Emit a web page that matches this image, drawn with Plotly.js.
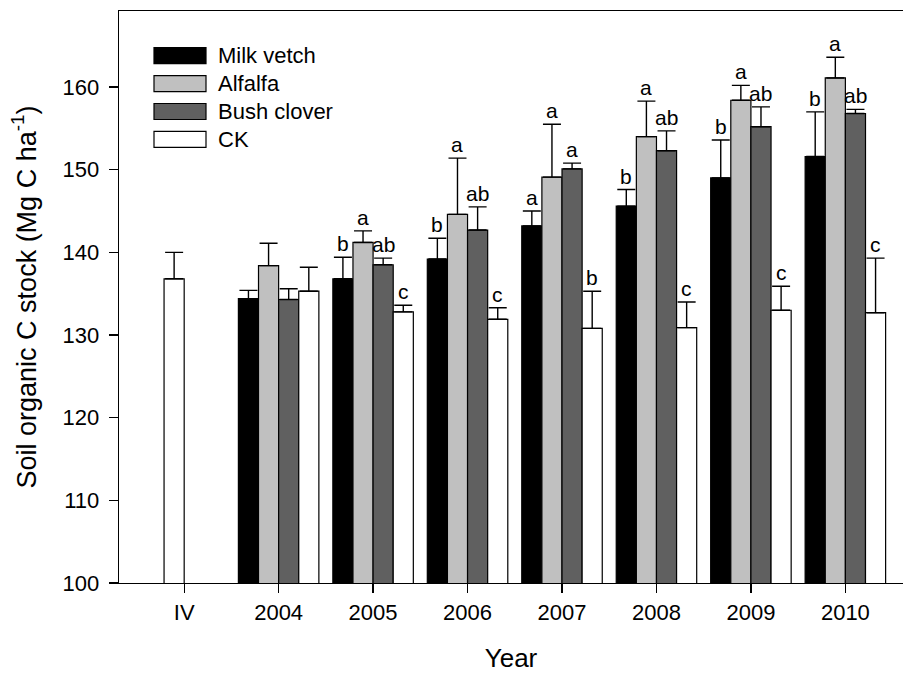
<!DOCTYPE html>
<html>
<head>
<meta charset="utf-8">
<script src="https://cdn.plot.ly/plotly-3.0.1.min.js"></script>
<style>html,body{margin:0;padding:0;background:#fff;}#chart{width:903px;height:673px;}</style>
</head>
<body>
<div id="chart"></div>
<script>
// ---- data ----
const categories = ["IV", "2004", "2005", "2006", "2007", "2008", "2009", "2010"];
const seriesNames = ["Milk vetch", "Alfalfa", "Bush clover", "CK"];

const milkVetch     = [null, 134.4, 136.8, 139.2, 143.2, 145.6, 149.0, 151.6];
const milkVetchErr  = [null,   1.0,   2.6,   2.5,   1.8,   2.0,   4.6,   5.4];
const alfalfa       = [null, 138.4, 141.2, 144.6, 149.1, 154.0, 158.4, 161.1];
const alfalfaErr    = [null,   2.7,   1.4,   6.8,   6.4,   4.3,   1.8,   2.5];
const bushClover    = [null, 134.3, 138.5, 142.7, 150.1, 152.3, 155.2, 156.8];
const bushCloverErr = [null,   1.3,   0.8,   2.8,   0.7,   2.4,   2.4,   0.5];
const ck            = [136.8, 135.3, 132.8, 131.9, 130.8, 130.9, 133.0, 132.7];
const ckErr         = [  3.2,   2.9,   0.8,   1.4,   4.5,   3.1,   2.9,   6.6];

const milkVetchLetters  = ["", "", "b", "b", "a", "b", "b", "b"];
const alfalfaLetters    = ["", "", "a", "a", "a", "a", "a", "a"];
const bushCloverLetters = ["", "", "ab", "ab", "a", "ab", "ab", "ab"];
const ckLetters         = ["", "", "c", "c", "b", "c", "c", "c"];

const yTicks = [100, 110, 120, 130, 140, 150, 160];

// ---- styling ----
const colors = ["#000000", "#c0c0c0", "#606060", "#ffffff"];
const FONT = "Liberation Sans, Arial, sans-serif";
const W = 903, H = 673;
const M = {l: 119, r: 0, t: 11, b: 90};
const BW = 0.213; // bar width in category units

const values = [milkVetch, alfalfa, bushClover, ck];
const errors = [milkVetchErr, alfalfaErr, bushCloverErr, ckErr];
const letters = [milkVetchLetters, alfalfaLetters, bushCloverLetters, ckLetters];

// CK alone (first category) sits just left of the tick
function offsetsFor(s) {
  return categories.map((c, i) => {
    const onlyCk = milkVetch[i] == null && alfalfa[i] == null && bushClover[i] == null;
    if (s === 3 && onlyCk) return -BW;
    return (s - 2) * BW;
  });
}

const traces = values.map((v, s) => ({
  type: "bar",
  name: seriesNames[s],
  x: categories,
  y: v,
  width: BW,
  offset: offsetsFor(s),
  marker: {color: colors[s], line: {color: "#000", width: 1.2}},
  error_y: {
    type: "data", symmetric: false,
    array: errors[s],
    arrayminus: errors[s].map(e => 0),
    color: "#000", thickness: 1.4, width: 9
  },
  showlegend: false,
  hoverinfo: "skip"
}));

// significance letters above the error caps
const annotations = [];
values.forEach((v, s) => {
  const offs = offsetsFor(s);
  v.forEach((val, i) => {
    if (val == null || !letters[s][i]) return;
    annotations.push({
      x: i + offs[i] + BW / 2, xref: "x",
      y: val + errors[s][i], yref: "y",
      text: letters[s][i], showarrow: false,
      xanchor: "center", yanchor: "bottom", yshift: 0,
      font: {family: FONT, size: 21, color: "#000"}
    });
  });
});

// custom legend (large swatches like the reference)
const PW = W - M.l - M.r, PH = H - M.t - M.b;
const px2x = px => (px - M.l) / PW;
const px2y = py => (H - M.b - py) / PH;
const shapes = [];
seriesNames.forEach((n, s) => {
  const cy = 55.7 + s * 27.9;
  shapes.push({
    type: "rect", xref: "paper", yref: "paper",
    x0: px2x(154), x1: px2x(206), y0: px2y(cy + 8), y1: px2y(cy - 8),
    fillcolor: colors[s], line: {color: "#000", width: 1.2}
  });
  annotations.push({
    xref: "paper", yref: "paper", x: px2x(216), y: px2y(cy),
    xanchor: "left", yanchor: "middle", showarrow: false,
    text: n, font: {family: FONT, size: 22, color: "#000"}
  });
});

const layout = {
  width: W, height: H,
  margin: M,
  paper_bgcolor: "#fff", plot_bgcolor: "#fff",
  barmode: "overlay",
  font: {family: FONT, color: "#000"},
  xaxis: {
    type: "category",
    range: [-0.69, 7.61],
    showline: true, linecolor: "#000", linewidth: 1.3, mirror: true,
    ticks: "outside", ticklen: 9, tickwidth: 1.3, tickcolor: "#000",
    showgrid: false, zeroline: false,
    tickfont: {family: FONT, size: 22, color: "#000"},
    title: {text: "Year", font: {family: FONT, size: 26, color: "#000"}, standoff: 28}
  },
  yaxis: {
    range: [100, 169.2],
    tickvals: yTicks,
    showline: true, linecolor: "#000", linewidth: 1.3, mirror: false,
    ticks: "outside", ticklen: 9, tickwidth: 1.3, tickcolor: "#000",
    ticklabelstandoff: 5,
    showgrid: false, zeroline: false,
    tickfont: {family: FONT, size: 22, color: "#000"},
    title: {text: "Soil organic C stock (Mg C ha<sup>-1</sup>)", font: {family: FONT, size: 27, color: "#000"}, standoff: 18}
  },
  shapes: shapes,
  annotations: annotations
};

Plotly.newPlot("chart", traces, layout, {displayModeBar: false, staticPlot: true});
</script>
</body>
</html>
